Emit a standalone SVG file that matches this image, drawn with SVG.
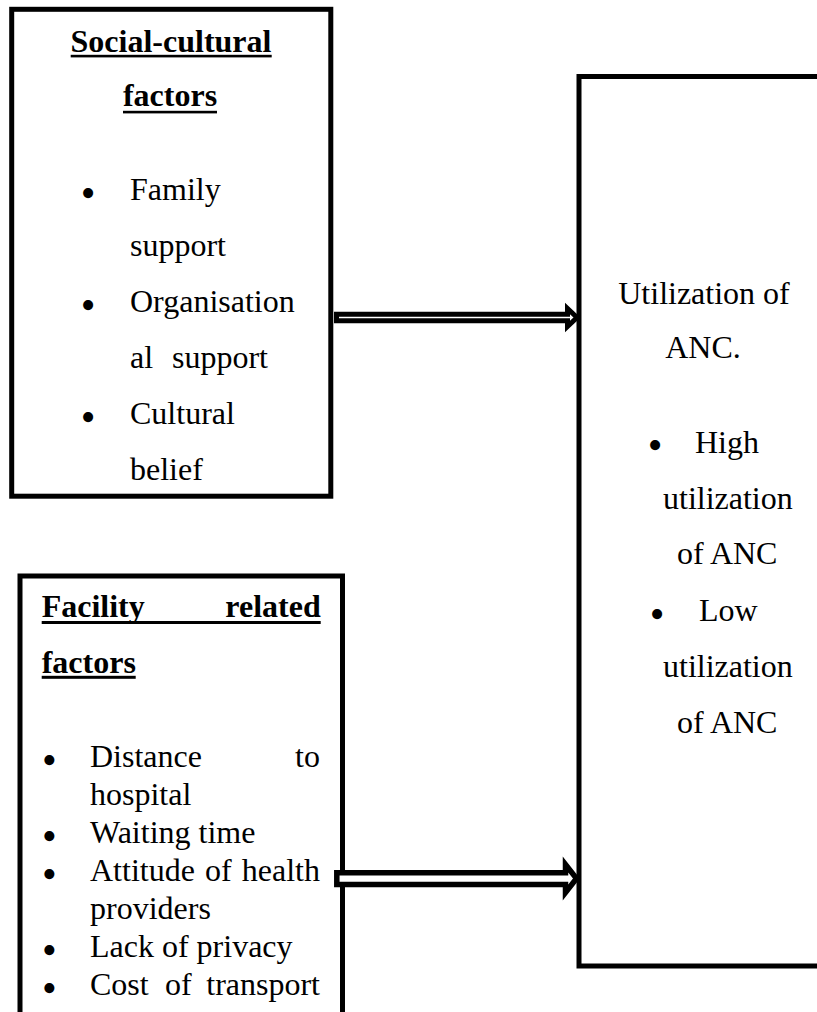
<svg xmlns="http://www.w3.org/2000/svg" width="817" height="1012" viewBox="0 0 817 1012">
<style>
.box{fill:#fff;stroke:#000;stroke-width:5}
.uline{fill:#000}
.arr{fill:#fff;stroke:#000;stroke-linejoin:miter}
</style>
<rect width="817" height="1012" fill="#fff"/>
<g id="social-cultural" font-size="32" fill="#000">
<rect class="box" x="11.7" y="9.3" width="319.1" height="486.9"/>
<text font-family="Liberation Serif" font-weight="bold" text-anchor="middle" x="171" y="52">Social-cultural</text>
<rect class="uline" x="70.7" y="54.8" width="201" height="2.6"/>
<text font-family="Liberation Serif" font-weight="bold" text-anchor="middle" x="170" y="106">factors</text>
<rect class="uline" x="123" y="110.8" width="94" height="2.6"/>
<text font-family="Liberation Serif" font-size="42" text-anchor="middle" x="88" y="207">•</text>
<text font-family="Liberation Serif" x="130" y="200">Family</text>
<text font-family="Liberation Serif" x="130" y="256">support</text>
<text font-family="Liberation Serif" font-size="42" text-anchor="middle" x="88" y="319">•</text>
<text font-family="Liberation Serif" x="130" y="312">Organisation</text>
<text font-family="Liberation Serif" x="130" y="368"><tspan>al</tspan><tspan x="172">support</tspan></text>
<text font-family="Liberation Serif" font-size="42" text-anchor="middle" x="88" y="431">•</text>
<text font-family="Liberation Serif" x="130" y="424">Cultural</text>
<text font-family="Liberation Serif" x="130" y="480">belief</text>
</g>
<g id="facility" font-size="32" fill="#000">
<rect class="box" x="20" y="576" width="322.5" height="500"/>
<text font-family="Liberation Serif" font-weight="bold" x="41.7" y="617">Facility</text>
<text font-family="Liberation Serif" font-weight="bold" text-anchor="end" x="320.7" y="617">related</text>
<rect class="uline" x="41.7" y="621" width="279" height="3"/>
<text font-family="Liberation Serif" font-weight="bold" x="41.7" y="673">factors</text>
<rect class="uline" x="41.7" y="675.8" width="94" height="3"/>
<text font-family="Liberation Serif" font-size="42" text-anchor="middle" x="49.3" y="774">•</text>
<text font-family="Liberation Serif" x="90" y="767">Distance</text>
<text font-family="Liberation Serif" text-anchor="end" x="320" y="767">to</text>
<text font-family="Liberation Serif" x="90" y="805">hospital</text>
<text font-family="Liberation Serif" font-size="42" text-anchor="middle" x="49.3" y="850">•</text>
<text font-family="Liberation Serif" x="90" y="843">Waiting time</text>
<text font-family="Liberation Serif" font-size="42" text-anchor="middle" x="49.3" y="888">•</text>
<text font-family="Liberation Serif" x="90" y="881">Attitude</text>
<text font-family="Liberation Serif" x="205" y="881">of</text>
<text font-family="Liberation Serif" text-anchor="end" x="320" y="881">health</text>
<text font-family="Liberation Serif" x="90" y="919">providers</text>
<text font-family="Liberation Serif" font-size="42" text-anchor="middle" x="49.3" y="964">•</text>
<text font-family="Liberation Serif" x="90" y="957">Lack of privacy</text>
<text font-family="Liberation Serif" font-size="42" text-anchor="middle" x="49.3" y="1002">•</text>
<text font-family="Liberation Serif" x="90" y="995">Cost</text>
<text font-family="Liberation Serif" x="165" y="995">of</text>
<text font-family="Liberation Serif" text-anchor="end" x="320" y="995">transport</text>
</g>
<g id="utilization" font-size="32" fill="#000">
<rect class="box" x="579" y="76.5" width="300" height="889.5"/>
<text font-family="Liberation Serif" text-anchor="middle" x="704" y="304">Utilization of</text>
<text font-family="Liberation Serif" text-anchor="middle" x="703" y="358">ANC.</text>
<text font-family="Liberation Serif" font-size="42" text-anchor="middle" x="655" y="459">•</text>
<text font-family="Liberation Serif" x="695" y="453">High</text>
<text font-family="Liberation Serif" x="663" y="509">utilization</text>
<text font-family="Liberation Serif" x="677" y="564">of ANC</text>
<text font-family="Liberation Serif" font-size="42" text-anchor="middle" x="657" y="628">•</text>
<text font-family="Liberation Serif" x="699" y="621">Low</text>
<text font-family="Liberation Serif" x="663" y="677">utilization</text>
<text font-family="Liberation Serif" x="677" y="733">of ANC</text>
</g>
<g id="connectors">
<polygon class="arr" stroke-width="5" points="336.5,314.2 567.5,314.2 567.5,308.5 577,317.5 567.5,326.5 567.5,320.8 336.5,320.8"/>
<polygon class="arr" stroke-width="5.5" points="336.8,872.8 565.5,872.8 565.5,864.5 576.5,878.5 565.5,892.5 565.5,884.5 336.8,884.5"/>
</g>
</svg>
